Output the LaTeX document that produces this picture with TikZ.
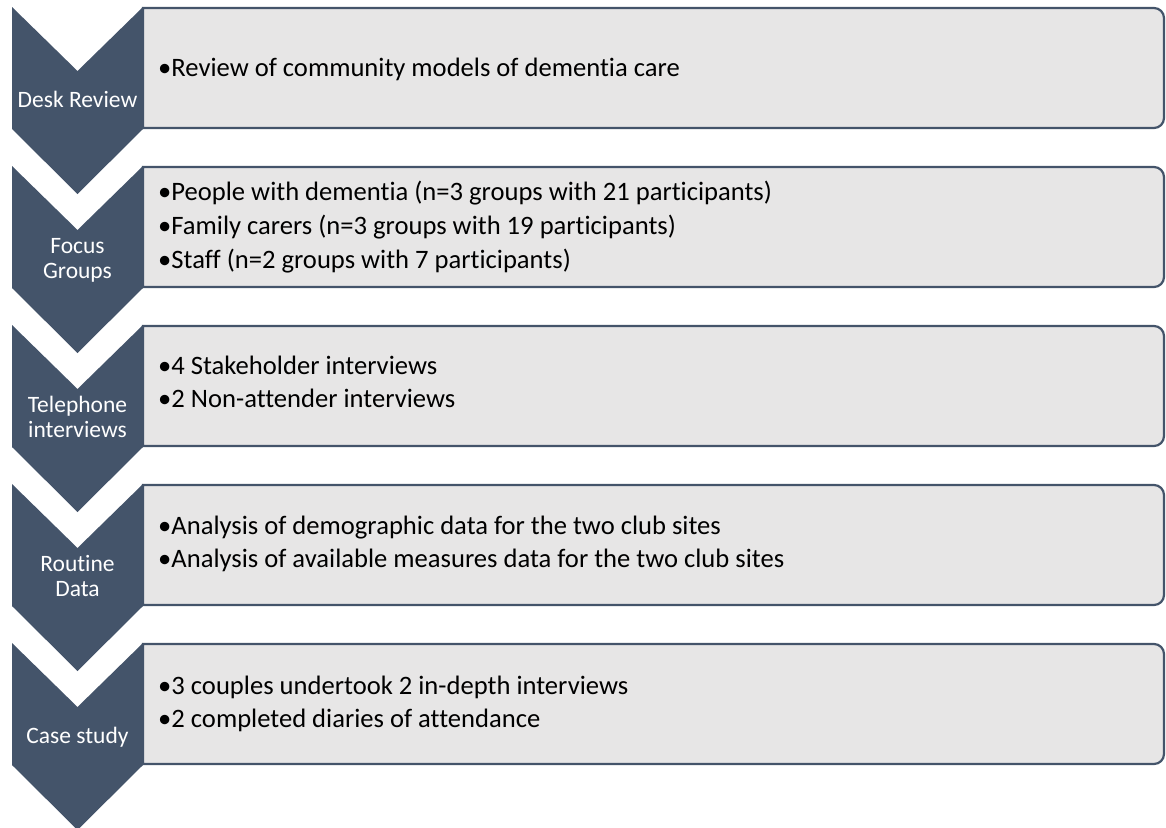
\documentclass[tikz,border=0pt]{standalone}
\usepackage{fontspec}
\setmainfont{Carlito}[Ligatures=NoCommon]
\definecolor{slate}{HTML}{44546A}
\definecolor{boxfill}{HTML}{E7E6E6}
\tikzset{
  chev/.style={fill=slate, draw=none},
  panel/.style={fill=boxfill, draw=slate, line width=2.2pt},
  lbl/.style={text=white, font=\fontsize{23.5}{28}\selectfont, anchor=base, inner sep=0pt},
  item/.style={text=black, font=\fontsize{26.6}{32}\selectfont, anchor=base west, inner sep=0pt},
}
\newcommand{\chevronat}[1]{%
  \path[chev] (12,#1) -- (77.5,#1+64) -- (143,#1) -- (143,#1+122) -- (77.5,#1+187) -- (12,#1+122) -- cycle;
  \path[panel] (143,#1+1) -- (1154,#1+1) [rounded corners=10pt] -- (1164,#1+1) -- (1164,#1+121) [rounded corners=0pt] -- (143,#1+121) -- cycle;
}
\begin{document}
\begin{tikzpicture}[x=1pt,y=-1pt]
\useasboundingbox (0,0) rectangle (1166,827);
\begin{scope}
\clip (0,0) rectangle (1166,827);
\chevronat{7}
\chevronat{166}
\chevronat{325}
\chevronat{484}
\chevronat{643}
\end{scope}
% labels
\node[lbl] (l1) at (77.5,107) {Desk Review};
\node[lbl] (l2a) at (77.5,253) {Focus};
\node[lbl] (l2b) at (77.5,278) {Groups};
\node[lbl] (l3a) at (77.5,412) {Telephone};
\node[lbl] (l3b) at (77.5,437) {interviews};
\node[lbl] (l4a) at (77.5,571) {Routine};
\node[lbl] (l4b) at (77.5,596) {Data};
\node[lbl] (l5) at (77.5,743) {Case study};
% items
\node[item] (t1) at (158,76) {•Review of community models of dementia care};
\node[item] (t2a) at (158,200) {•People with dementia (n=3 groups with 21 participants)};
\node[item] (t2b) at (158,234) {•Family carers (n=3 groups with 19 participants)};
\node[item] (t2c) at (158,268) {•Staff (n=2 groups with 7 participants)};
\node[item] (t3a) at (158,374) {•4 Stakeholder interviews};
\node[item] (t3b) at (158,407) {•2 Non-attender interviews};
\node[item] (t4a) at (158,534) {•Analysis of demographic data for the two club sites};
\node[item] (t4b) at (158,567) {•Analysis of available measures data for the two club sites};
\node[item] (t5a) at (158,694) {•3 couples undertook 2 in-depth interviews};
\node[item] (t5b) at (158,727) {•2 completed diaries of attendance};
\end{tikzpicture}
\end{document}
